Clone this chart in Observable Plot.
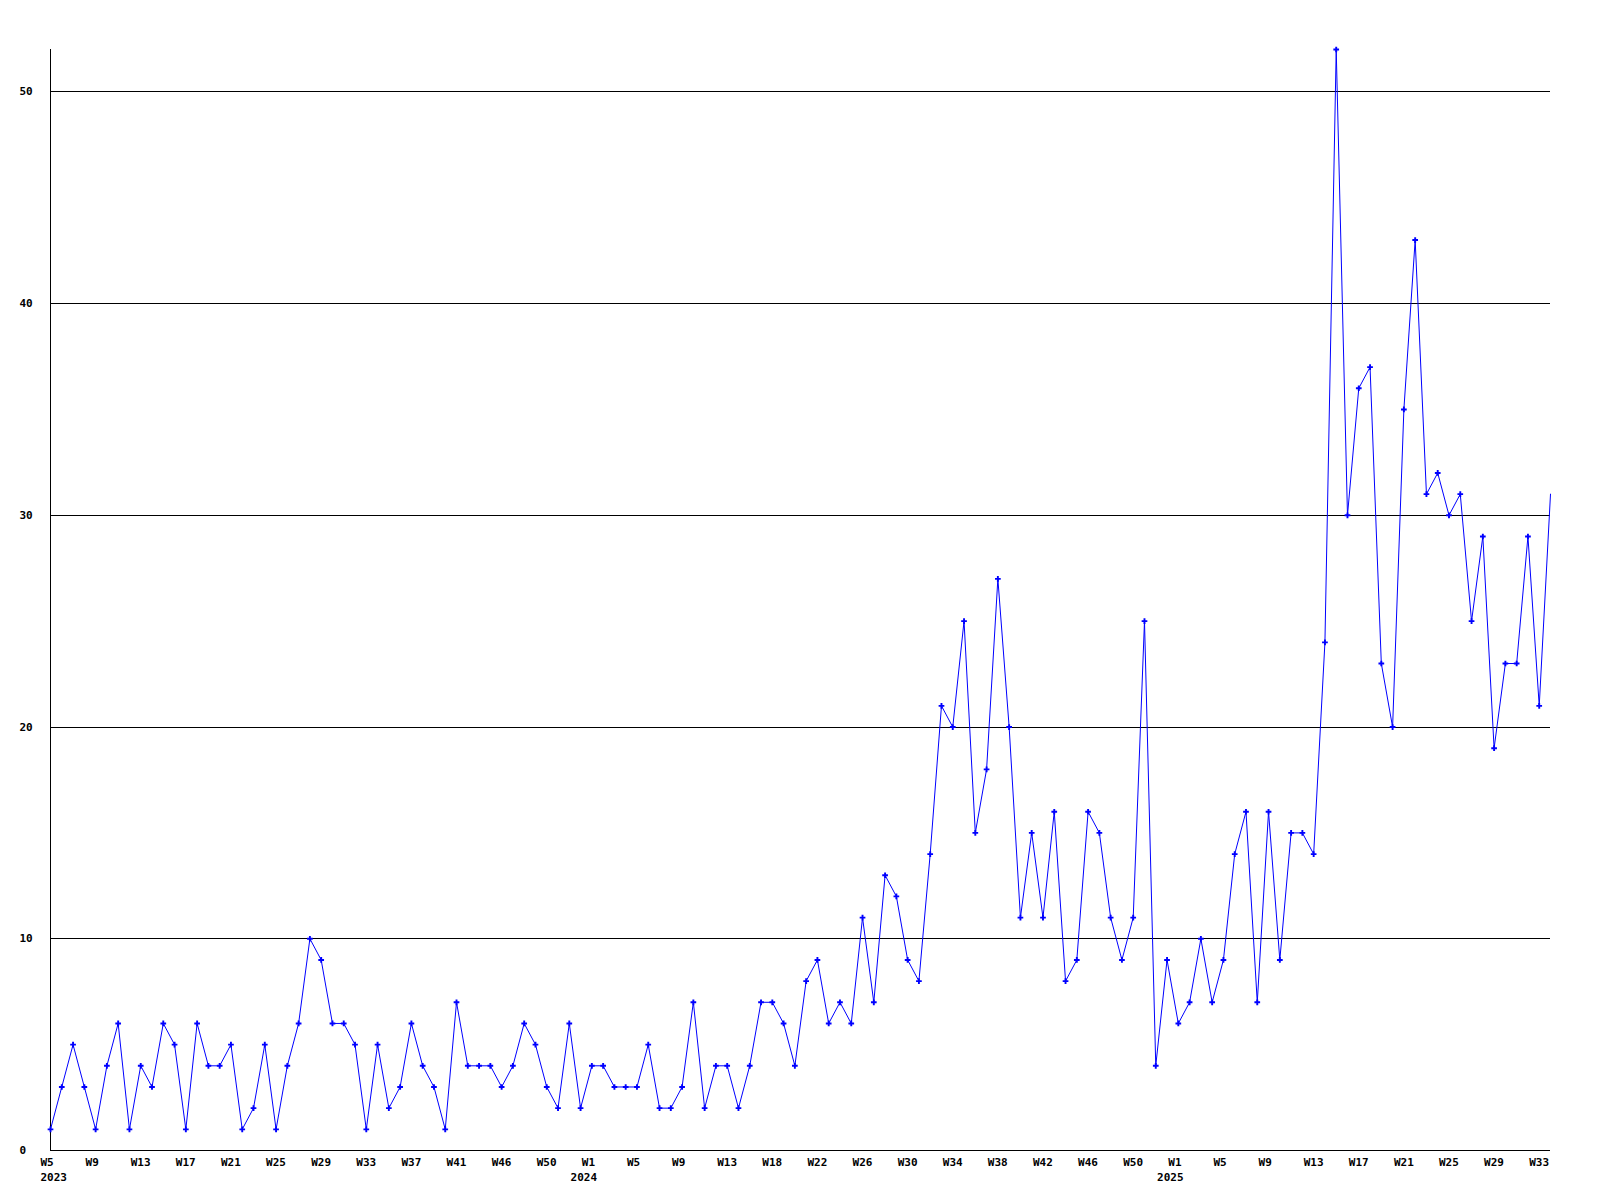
<!DOCTYPE html>
<html>
<head>
<meta charset="utf-8">
<script src="https://cdn.jsdelivr.net/npm/d3@7"></script>
<script src="https://cdn.jsdelivr.net/npm/@observablehq/plot@0.6"></script>
<style>
  html, body { margin: 0; padding: 0; background: #ffffff; }
  #chart svg { display: block; }
</style>
</head>
<body>
<div id="chart"></div>
<script>
// Weekly counts
const values2023 = [1,3,5,3,1,4,6,1,4,3,6,5,1,6,4,4,5,1,2,5,1,4,6,10,9,6,6,5,1,5,2,3,6,4,3,1,7,4,4,4,3,4,6,5,3,2,6,2];
const values2024 = [4,4,3,3,3,5,2,2,3,7,2,4,4,2,4,7,7,6,4,8,9,6,7,6,11,7,13,12,9,8,14,21,20,25,15,18,27,20,11,15,11,16,8,9,16,15,11,9,11,25,4,9];
const values2025 = [6,7,10,7,9,14,16,7,16,9,15,15,14,24,52,30,36,37,23,20,35,43,31,32,30,31,25,29,19,23,23,29,21,31];

// Tick labels shown every fourth week, and the year names
const tickLabels = ["W5","W9","W13","W17","W21","W25","W29","W33","W37","W41","W46","W50",
                    "W1","W5","W9","W13","W18","W22","W26","W30","W34","W38","W42","W46","W50",
                    "W1","W5","W9","W13","W17","W21","W25","W29","W33"];
const yearLabels = ["2023","2024","2025"];
const yTicks = [0,10,20,30,40,50];

const values = [...values2023, ...values2024, ...values2025];
const data = values.map((v, i) => ({i, v}));
const n = values.length;
const tickIdx = d3.range(0, n, 4).slice(0, tickLabels.length);
const labelOf = new Map(tickIdx.map((t, k) => [t, tickLabels[k]]));
// year ticks: the first tick and each tick labelled W1
const yearTicks = tickIdx.filter((t, k) => k === 0 || tickLabels[k] === "W1");
const yearOf = new Map(yearTicks.map((t, k) => [t, yearLabels[k]]));

const font = "'DejaVu Sans Mono', 'Liberation Mono', monospace";

const chart = Plot.plot({
  width: 1600,
  height: 1200,
  marginLeft: 50,
  marginRight: 50,
  marginTop: 49,
  marginBottom: 50,
  style: {background: "#ffffff", fontFamily: font, fontSize: "11px", fontWeight: "bold", color: "#000000"},
  x: {type: "linear", domain: [0, n - 1]},
  y: {domain: [0, 52]},
  marks: [
    Plot.gridY(yTicks.filter(d => d > 0), {stroke: "#000000", strokeOpacity: 1, strokeWidth: 1, shapeRendering: "crispEdges"}),
    Plot.ruleX([0], {stroke: "#000000", shapeRendering: "crispEdges"}),
    Plot.ruleY([0], {stroke: "#000000", shapeRendering: "crispEdges"}),
    Plot.line(data, {x: "i", y: "v", stroke: "#0000ff", strokeWidth: 1}),
    Plot.dot(data, {x: "i", y: "v", filter: d => d.i < n - 1, symbol: "cross", r: 2.4, fill: "#0000ff", stroke: "none"}),
    Plot.axisY(yTicks, {anchor: "left", tickSize: 0, tickPadding: 31, textAnchor: "start", label: null,
      fontFamily: font, fontSize: 11, fontWeight: "bold", fill: "#000000"}),
    Plot.axisX(tickIdx, {anchor: "bottom", tickSize: 0, tickPadding: 8, textAnchor: "start", dx: -10,
      tickFormat: d => labelOf.get(d), label: null, fontFamily: font, fontSize: 11, fontWeight: "bold", fill: "#000000"}),
    Plot.axisX(yearTicks.slice(0, 1), {anchor: "bottom", tickSize: 0, tickPadding: 23, textAnchor: "start", dx: -10,
      tickFormat: d => yearOf.get(d), label: null, fontFamily: font, fontSize: 11, fontWeight: "bold", fill: "#000000"}),
    Plot.axisX(yearTicks.slice(1), {anchor: "bottom", tickSize: 0, tickPadding: 23, textAnchor: "middle", dx: -8,
      tickFormat: d => yearOf.get(d), label: null, fontFamily: font, fontSize: 11, fontWeight: "bold", fill: "#000000"})
  ]
});
document.getElementById("chart").append(chart);
</script>
</body>
</html>
